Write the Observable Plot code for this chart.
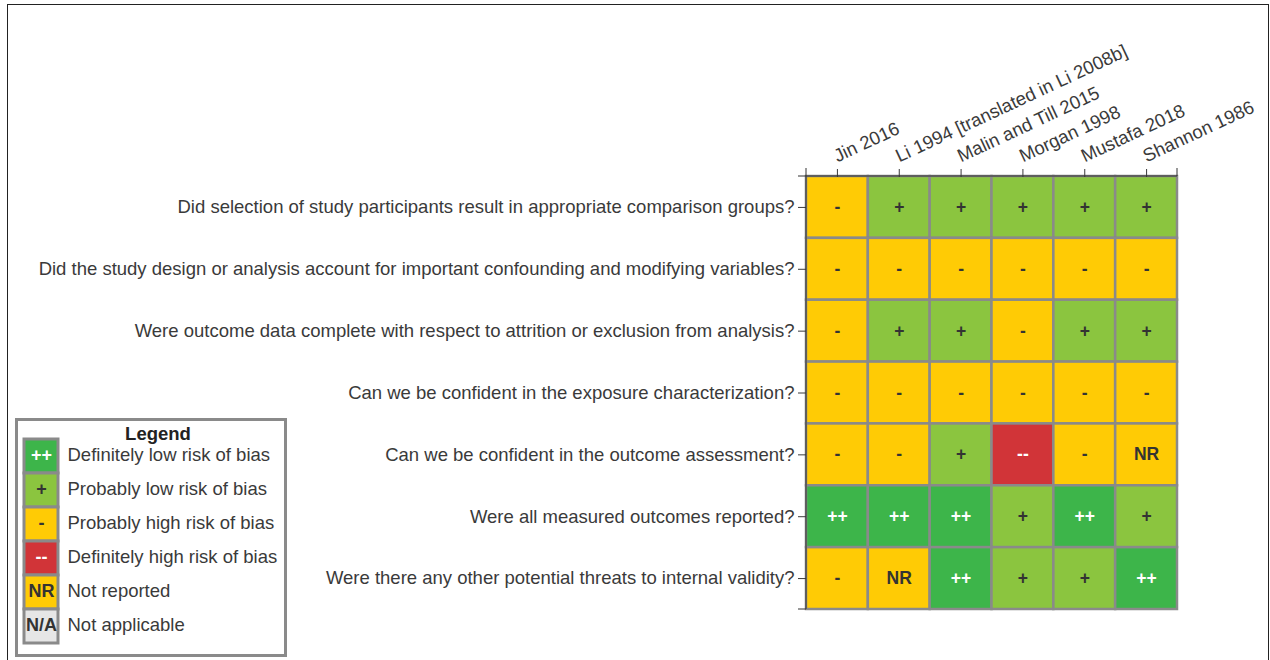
<!DOCTYPE html>
<html><head><meta charset="utf-8">
<script src="https://cdn.jsdelivr.net/npm/d3@7"></script>
<script src="https://cdn.jsdelivr.net/npm/@observablehq/plot@0.6"></script>
<style>
html,body{margin:0;padding:0;background:#fff;}
#wrap{position:relative;width:1270px;height:660px;overflow:hidden;font-family:"Liberation Sans",Arial,sans-serif;}
#frame{position:absolute;left:7px;top:4px;width:1262px;height:720px;border:1.5px solid #222;box-sizing:border-box;pointer-events:none;}
#chart{position:absolute;left:0;top:0;}
#legend{position:absolute;left:15px;top:418px;width:272px;height:239px;border:3px solid #8a8a8a;box-sizing:border-box;background:#fff;}
#legend-title{position:absolute;left:14px;right:0;top:2px;text-align:center;font-weight:bold;font-size:18.5px;color:#222;}
#legend-plot{position:absolute;left:0;top:0;}
</style>
</head>
<body>
<div id="wrap">
  <div id="frame"></div>
  <div id="chart"></div>
  <div id="legend"><div id="legend-plot"></div><div id="legend-title">Legend</div></div>
</div>
<script>
const studies = ["Jin 2016", "Li 1994 [translated in Li 2008b]", "Malin and Till 2015", "Morgan 1998", "Mustafa 2018", "Shannon 1986"];
const questions = [
  "Did selection of study participants result in appropriate comparison groups?",
  "Did the study design or analysis account for important confounding and modifying variables?",
  "Were outcome data complete with respect to attrition or exclusion from analysis?",
  "Can we be confident in the exposure characterization?",
  "Can we be confident in the outcome assessment?",
  "Were all measured outcomes reported?",
  "Were there any other potential threats to internal validity?"
];
const ratings = [
  ["-", "+", "+", "+", "+", "+"],
  ["-", "-", "-", "-", "-", "-"],
  ["-", "+", "+", "-", "+", "+"],
  ["-", "-", "-", "-", "-", "-"],
  ["-", "-", "+", "--", "-", "NR"],
  ["++", "++", "++", "+", "++", "+"],
  ["-", "NR", "++", "+", "+", "++"]
];
const ratingCodes = ["++", "+", "-", "--", "NR", "N/A"];
const ratingColors = ["#3DB54A", "#8BC53F", "#FFCB05", "#D13438", "#FFCB05", "#E6E6E6"];
const lightTextCodes = ["++", "--"];
const legendLabels = ["Definitely low risk of bias", "Probably low risk of bias", "Probably high risk of bias", "Definitely high risk of bias", "Not reported", "Not applicable"];

const FONT = '"Liberation Sans", Arial, sans-serif';
const cells = questions.flatMap((q, i) => studies.map((s, j) => ({question: q, study: s, rating: ratings[i][j]})));
const isLight = d => lightTextCodes.includes(d.rating);

function axisDomains(index, scales, values, dims) {
  const L = dims.marginLeft, T = dims.marginTop;
  const R = dims.width - dims.marginRight, B = dims.height - dims.marginBottom;
  const g = d3.create("svg:g").attr("fill", "none").attr("stroke", "#333").attr("stroke-width", 1);
  g.append("path").attr("d", `M${L},${T - 8}V${T}H${R}V${T - 8}`);
  g.append("path").attr("d", `M${L - 8},${T}H${L}V${B}H${L - 8}`);
  return g.node();
}

const chart = Plot.plot({
  width: 1270, height: 660,
  marginLeft: 806, marginRight: 93, marginTop: 176, marginBottom: 51,
  style: {fontFamily: FONT, fontSize: "18.5px", color: "#3a3a3a", background: "transparent", overflow: "visible"},
  x: {domain: studies, padding: 0, round: false, axis: null},
  y: {domain: questions, padding: 0, round: false, axis: null},
  color: {domain: ratingCodes, range: ratingColors},
  marks: [
    Plot.cell(cells, {x: "study", y: "question", fill: "rating", stroke: "#8a8a8a", strokeWidth: 2.5}),
    Plot.text(cells, {filter: d => !isLight(d), x: "study", y: "question", text: "rating", fill: "#333", fontWeight: "bold", fontSize: 17.5}),
    Plot.text(cells, {filter: isLight, x: "study", y: "question", text: "rating", fill: "#fff", fontWeight: "bold", fontSize: 17.5}),
    Plot.axisY({anchor: "left", tickSize: 8, tickPadding: 4, label: null, fontSize: 18.5}),
    Plot.axisX({anchor: "top", tickSize: 8, tickFormat: () => "", label: null}),
    Plot.text(studies, {x: d => d, frameAnchor: "top", dy: -14, rotate: -25, textAnchor: "start", lineAnchor: "bottom", fontSize: 18.5, fill: "#3a3a3a"}),
    axisDomains
  ]
});
document.getElementById("chart").append(chart);

const legendItems = ratingCodes.map((c, i) => ({code: c, label: legendLabels[i], rating: c}));
const legend = Plot.plot({
  width: 266, height: 233,
  marginLeft: 6, marginRight: 226, marginTop: 18, marginBottom: 11,
  style: {fontFamily: FONT, fontSize: "18.5px", color: "#3a3a3a", background: "transparent", overflow: "visible"},
  x: {domain: ["swatch"], padding: 0, round: false, axis: null},
  y: {domain: legendLabels, padding: 0, round: false, axis: null},
  color: {domain: ratingCodes, range: ratingColors},
  marks: [
    Plot.cell(legendItems, {x: () => "swatch", y: "label", fill: "code", stroke: "#8a8a8a", strokeWidth: 3}),
    Plot.text(legendItems, {filter: d => !isLight(d), x: () => "swatch", y: "label", text: "code", fill: "#333", fontWeight: "bold", fontSize: 18, dy: -1}),
    Plot.text(legendItems, {filter: isLight, x: () => "swatch", y: "label", text: "code", fill: "#fff", fontWeight: "bold", fontSize: 18, dy: -1}),
    Plot.axisY({anchor: "right", tickSize: 0, tickPadding: 9, label: null, fontSize: 18.5, dy: -1})
  ]
});
document.getElementById("legend-plot").append(legend);
</script>
</body></html>
